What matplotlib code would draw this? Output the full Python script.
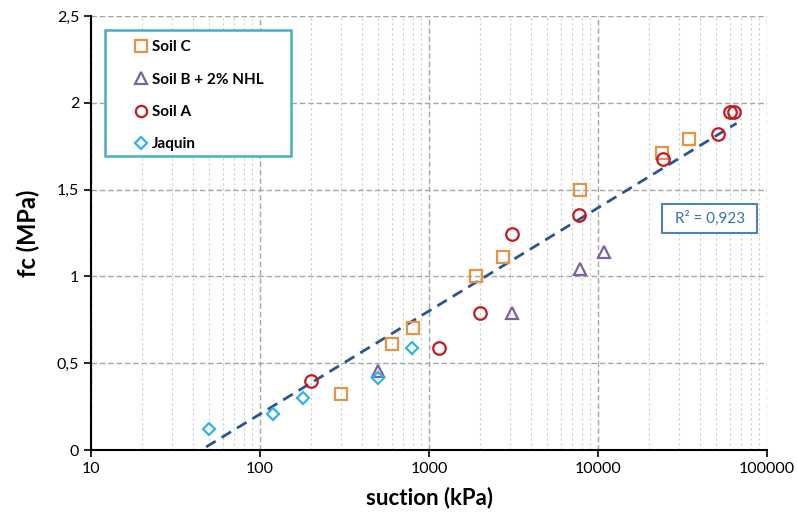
import numpy as np
import matplotlib
matplotlib.use("Agg")
import matplotlib.pyplot as plt
from matplotlib.patches import Rectangle
from matplotlib.ticker import FixedLocator, LogLocator, NullFormatter

plt.rcParams['font.family'] = ['Lato', 'DejaVu Sans']

# data
soil_c_x = [300, 600, 800, 1900, 2750, 7800, 23800, 34700]
soil_c_y = [0.32, 0.61, 0.70, 1.00, 1.11, 1.50, 1.71, 1.79]

soil_b_x = [500, 3100, 7800, 10900]
soil_b_y = [0.455, 0.79, 1.04, 1.14]

soil_a_x = [200, 1150, 2000, 3100, 7750, 24300, 51500, 60500, 63500]
soil_a_y = [0.40, 0.59, 0.79, 1.245, 1.355, 1.675, 1.82, 1.945, 1.945]

jaquin_x = [50, 120, 180, 500, 790]
jaquin_y = [0.12, 0.21, 0.30, 0.415, 0.59]

# log trend line fc = a*log10(s) + b
trend_a = 0.594
trend_b = -0.981
trend_range = [48, 66000]
r2_text = "R\u00b2 = 0,923"

y_ticks = [0, 0.5, 1, 1.5, 2, 2.5]
y_labels = ["0", "0,5", "1", "1,5", "2", "2,5"]
x_ticks = [10, 100, 1000, 10000, 100000]
x_labels = ["10", "100", "1000", "10000", "100000"]

fig = plt.figure(figsize=(7.97, 5.14), dpi=100, facecolor='white')
ax = fig.add_axes([0.1142, 0.1245, 0.8482, 0.8444])
ax.set_xscale('log')
ax.set_xlim(10, 100000)
ax.set_ylim(0, 2.5)

# grid
ax.grid(which='major', axis='both', color='#a6a6a6', linestyle=(0, (4, 2)), linewidth=1.0)
ax.xaxis.set_minor_locator(LogLocator(base=10, subs=np.arange(2, 10)))
ax.xaxis.set_minor_formatter(NullFormatter())
ax.grid(which='minor', axis='x', color='#cccccc', linestyle=(0, (2, 2.5)), linewidth=0.8)
ax.set_axisbelow(True)

# trend line
tx = np.logspace(np.log10(trend_range[0]), np.log10(trend_range[1]), 50)
ax.plot(tx, trend_a * np.log10(tx) + trend_b, color='#2a5591', linewidth=2,
        linestyle=(0, (4, 2.5)), zorder=2)

mk = dict(linestyle='none', markerfacecolor='none', markeredgewidth=1.6, zorder=3)
ax.plot(soil_c_x, soil_c_y, marker='s', markersize=9, markeredgecolor='#e39447', label='Soil C', **mk)
ax.plot(soil_b_x, soil_b_y, marker='^', markersize=9, markeredgecolor='#7d62a1', label='Soil B + 2% NHL', **mk)
ax.plot(soil_a_x, soil_a_y, marker='o', markersize=9, markeredgecolor='#c8171e', label='Soil A', **mk)
ax.plot(jaquin_x, jaquin_y, marker='D', markersize=6.5, markeredgecolor='#2fb4e6', label='Jaquin', **mk)

# ticks
ax.set_yticks(y_ticks)
ax.set_yticklabels(y_labels)
ax.xaxis.set_major_locator(FixedLocator(x_ticks))
ax.set_xticklabels(x_labels)
ax.tick_params(which='major', direction='out', length=5, width=1.2, labelsize=11.5, colors='black')
ax.tick_params(which='minor', length=0)
for s in ['top', 'right']:
    ax.spines[s].set_visible(False)
for s in ['left', 'bottom']:
    ax.spines[s].set_linewidth(1.5)
    ax.spines[s].set_color('black')

ax.set_xlabel("suction (kPa)", fontsize=16, fontweight='bold', labelpad=8)
ax.set_ylabel("fc (MPa)", fontsize=17, fontweight='bold', labelpad=12)

# legend: frame drawn as its own box, entries placed inside it
ax.add_patch(Rectangle((0.0207, 0.6774), 0.2752, 0.2903, transform=ax.transAxes,
                       facecolor='white', edgecolor='#4bacc6', linewidth=1.8, zorder=4))
leg = ax.legend(loc='upper left', bbox_to_anchor=(0.062, 0.944), frameon=False,
                borderpad=0, labelspacing=1.2, handlelength=1.1, handletextpad=0.15,
                borderaxespad=0, markerscale=0.9, prop={'weight': 'bold', 'size': 11})
leg.set_zorder(5)

# R^2 box
ax.add_patch(Rectangle((0.8447, 0.5), 0.1405, 0.0668, transform=ax.transAxes,
                       facecolor='white', edgecolor='#4f81bd', linewidth=1.5, zorder=4))
ax.text(0.915, 0.5334, r2_text, transform=ax.transAxes, ha='center', va='center',
        fontsize=11, color='#3371b5', zorder=5)

plt.savefig("out.png", dpi=100)
